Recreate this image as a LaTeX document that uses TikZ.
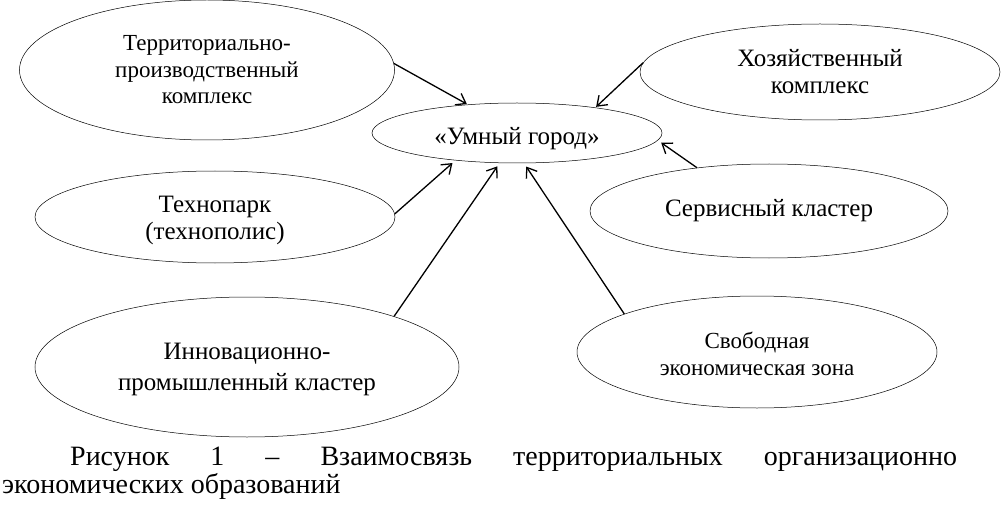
\documentclass[tikz,border=0pt]{standalone}
\usepackage{fontspec}
\setmainfont{Liberation Serif}
\newfontfamily\tnr{Liberation Serif}
\usetikzlibrary{shapes.geometric,arrows.meta}
\begin{document}
\begin{tikzpicture}[x=1pt,y=-1pt,
    form/.style={ellipse,draw,line width=0.5pt,inner sep=0pt,align=center,
                 font=\tnr\fontsize{25}{27}\selectfont},
    link/.style={-{Straight Barb[length=9pt,width=13pt]},line width=1.3pt,shorten >=4pt}]
    \useasboundingbox (0,0) rectangle (1001,505);

    % Centre
    \node[form,minimum width=290pt,minimum height=60pt] (city) at (517,133)
        {\raisebox{-6pt}[\height][\depth]{«Умный город»}};

    % Left side
    \node[form,minimum width=375pt,minimum height=140pt,
          font=\tnr\fontsize{23}{26.5}\selectfont] (tpk) at (207,70)
        {Территориально-\\производственный\\комплекс};
    \node[form,minimum width=360pt,minimum height=92pt] (tech) at (215,217)
        {\rule{0pt}{24pt}Технопарк\\(технополис)};
    \node[form,minimum width=424pt,minimum height=140pt,
          font=\tnr\fontsize{25}{31}\selectfont] (innov) at (247,367)
        {\rule{0pt}{22pt}Инновационно-\\промышленный кластер};

    % Right side
    \node[form,minimum width=360pt,minimum height=96pt] (hoz) at (820,72)
        {Хозяйственный\\комплекс};
    \node[form,minimum width=358pt,minimum height=94pt] (serv) at (769,211)
        {Сервисный кластер};
    \node[form,minimum width=360pt,minimum height=112pt,
          font=\tnr\fontsize{23}{27}\selectfont] (sez) at (757,352)
        {\rule{0pt}{21pt}Свободная\\экономическая зона};

    % Links
    \draw[link,shorten >=1pt] (tpk.2) -- (city.150);
    \draw[link] (tech.1) -- (city.204);
    \draw[link] (innov.19) -- (city.240);
    \draw[link] (sez.164) -- (city.283);
    \draw[link] (serv.149) -- (city.357);
    \draw[link,shorten >=1pt] (hoz.177) -- (city.18);

    % Caption
    \node[anchor=base west,inner sep=0pt,font=\tnr\fontsize{28}{28}\selectfont] (cap1) at (70,465)
        {\makebox[887pt][s]{Рисунок 1 – Взаимосвязь территориальных организационно}};
    \node[anchor=base west,inner sep=0pt,font=\tnr\fontsize{28}{28}\selectfont] (cap2) at (2,493)
        {экономических образований};
\end{tikzpicture}
\end{document}
